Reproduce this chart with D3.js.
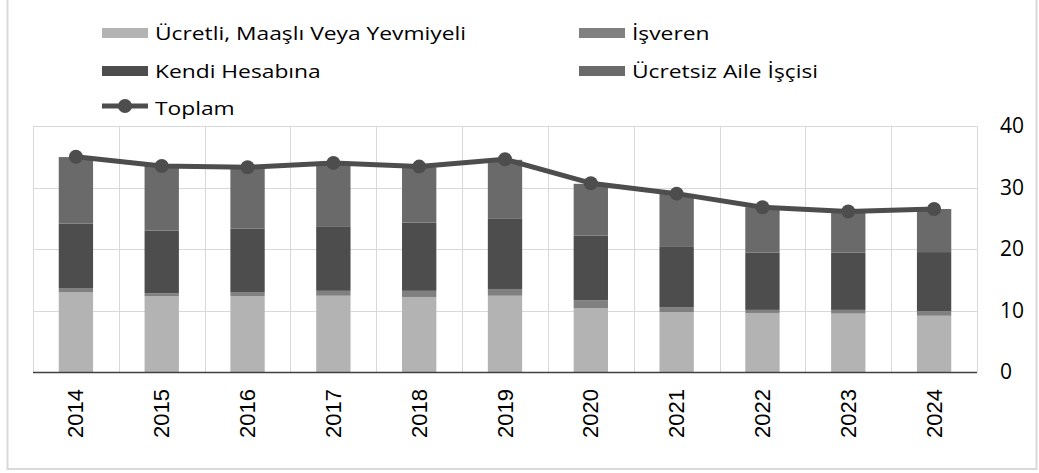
<!DOCTYPE html>
<html lang="tr">
<head>
<meta charset="UTF-8">
<title>İstihdam durumu</title>
<script src="https://d3js.org/d3.v7.min.js"></script>
<style>
    body { margin: 0; background: #fff; }
    svg { display: block; }
    .legend text, .yaxis text { font-family: "Open Sans", sans-serif; fill: #000; }
    .xaxis text { font-family: "Liberation Sans", Arial, sans-serif; fill: #000; }
</style>
</head>
<body>
<svg width="1039" height="473"></svg>
<script>
// veri
const years = ["2014", "2015", "2016", "2017", "2018", "2019", "2020", "2021", "2022", "2023", "2024"];
const ucretli = [12.95, 12.3, 12.3, 12.4, 12.2, 12.4, 10.4, 9.7, 9.6, 9.5, 9.15];
const isveren = [0.7, 0.5, 0.7, 0.8, 1.0, 1.1, 1.25, 0.85, 0.5, 0.6, 0.75];
const kendi = [10.5, 10.2, 10.3, 10.5, 11.1, 11.4, 10.55, 9.9, 9.3, 9.3, 9.6];
const ucretsiz = [10.8, 10.5, 10.0, 10.3, 9.0, 9.6, 8.4, 8.5, 7.4, 6.7, 7.0];
const toplam = [35.0, 33.5, 33.3, 34.0, 33.4, 34.6, 30.7, 29.0, 26.8, 26.1, 26.5];
const yTicks = [0, 10, 20, 30, 40];

const seriesNames = ["Ücretli, Maaşlı Veya Yevmiyeli", "İşveren", "Kendi Hesabına", "Ücretsiz Aile İşçisi"];
const seriesColors = ["#b3b3b3", "#808080", "#4d4d4d", "#6a6a6a"];
const seriesValues = [ucretli, isveren, kendi, ucretsiz];

const svg = d3.select("svg");

// dış çerçeve
svg.append("rect")
    .attr("x", 7.5).attr("y", -3)
    .attr("width", 1029).attr("height", 472)
    .attr("fill", "none")
    .attr("stroke", "#d9d9d9")
    .attr("stroke-width", 2);

const plot = { left: 33, right: 977, top: 126, bottom: 372 };

const x = d3.scaleBand()
    .domain(years)
    .range([plot.left, plot.right])
    .paddingInner(0.6).paddingOuter(0.3);

const xb = d3.scaleBand().domain(years).range([plot.left, plot.right]);

const y = d3.scaleLinear().domain([0, 40]).range([plot.bottom, plot.top]);

// ızgara
const grid = svg.append("g");
grid.selectAll(".h").data(yTicks.slice(1)).enter().append("line")
    .attr("x1", plot.left).attr("x2", plot.right)
    .attr("y1", d => Math.round(y(d)) + 0.5).attr("y2", d => Math.round(y(d)) + 0.5)
    .attr("stroke", "#d9d9d9");
grid.selectAll(".v").data(years.concat(["end"])).enter().append("line")
    .attr("x1", (d, i) => Math.round(plot.left + i * xb.step()) + 0.5)
    .attr("x2", (d, i) => Math.round(plot.left + i * xb.step()) + 0.5)
    .attr("y1", plot.top).attr("y2", plot.bottom)
    .attr("stroke", "#d9d9d9");

// yığılmış çubuklar
const rows = years.map((yr, i) => {
    const r = { year: yr };
    seriesNames.forEach((s, k) => r[s] = seriesValues[k][i]);
    return r;
});
const stacked = d3.stack().keys(seriesNames)(rows);

svg.append("g").selectAll("g").data(stacked).enter().append("g")
    .attr("fill", (d, i) => seriesColors[i])
    .selectAll("rect").data(d => d).enter().append("rect")
    .attr("x", d => x(d.data.year))
    .attr("width", x.bandwidth())
    .attr("y", d => y(d[1]))
    .attr("height", d => y(d[0]) - y(d[1]));

// x ekseni çizgisi
svg.append("line")
    .attr("x1", plot.left).attr("x2", plot.right)
    .attr("y1", plot.bottom + 0.5).attr("y2", plot.bottom + 0.5)
    .attr("stroke", "#404040").attr("stroke-width", 1.5);

// toplam çizgisi
const cx = d => x(d) + x.bandwidth() / 2;
svg.append("path")
    .datum(toplam)
    .attr("fill", "none")
    .attr("stroke", "#4d4d4d")
    .attr("stroke-width", 5)
    .attr("stroke-linejoin", "round")
    .attr("d", d3.line().x((d, i) => cx(years[i])).y(d => y(d)));

svg.append("g").selectAll("circle").data(toplam).enter().append("circle")
    .attr("cx", (d, i) => cx(years[i]))
    .attr("cy", d => y(d))
    .attr("r", 7)
    .attr("fill", "#4d4d4d");

// x ekseni etiketleri
svg.append("g").attr("class", "xaxis")
    .selectAll("text").data(years).enter().append("text")
    .attr("transform", d => "translate(" + (cx(d) + 7.5) + ",389) rotate(-90)")
    .attr("text-anchor", "end")
    .attr("font-size", "22px")
    .text(d => d);

// sağ y ekseni
svg.append("g").attr("class", "yaxis")
    .selectAll("text").data(yTicks).enter().append("text")
    .attr("x", 1000)
    .attr("y", d => y(d))
    .attr("dy", "0.35em")
    .attr("font-size", "21px")
    .text(d => d);

// lejant
const legendItems = [
    { name: seriesNames[0], color: seriesColors[0], col: 0, row: 0 },
    { name: seriesNames[1], color: seriesColors[1], col: 1, row: 0 },
    { name: seriesNames[2], color: seriesColors[2], col: 0, row: 1 },
    { name: seriesNames[3], color: seriesColors[3], col: 1, row: 1 }
];
const colX = [102, 579];
const rowY = [33, 71, 108];

const legend = svg.append("g").attr("class", "legend");
const li = legend.selectAll("g").data(legendItems).enter().append("g")
    .attr("transform", d => "translate(" + colX[d.col] + "," + rowY[d.row] + ")");
li.append("rect")
    .attr("x", 0).attr("y", -5)
    .attr("width", 46).attr("height", 10)
    .attr("fill", d => d.color);
li.append("text")
    .attr("transform", "translate(53,0) scale(1.2,1)")
    .attr("dy", "0.35em")
    .attr("font-size", "19px")
    .text(d => d.name);

const lt = legend.append("g").attr("transform", "translate(" + colX[0] + "," + rowY[2] + ")");
lt.append("line").attr("x1", 0).attr("x2", 46).attr("y1", -2).attr("y2", -2)
    .attr("stroke", "#4d4d4d").attr("stroke-width", 5);
lt.append("circle").attr("cx", 23).attr("cy", -2).attr("r", 7).attr("fill", "#4d4d4d");
lt.append("text").attr("transform", "translate(53,0) scale(1.2,1)")
    .attr("dy", "0.35em").attr("font-size", "19px").text("Toplam");
</script>
</body>
</html>
